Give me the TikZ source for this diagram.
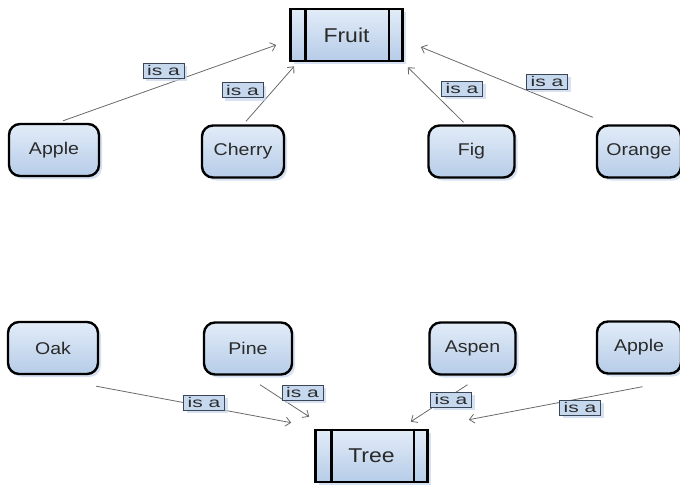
\documentclass[tikz,border=0pt]{standalone}
\usepackage{fontspec}
\setmainfont{Liberation Sans}
\usetikzlibrary{arrows.meta,shadows,calc}
\definecolor{txt}{HTML}{2A2A2A}
\definecolor{boxtop}{HTML}{E2ECF8}
\definecolor{boxbot}{HTML}{B6CCE8}
\definecolor{shadowc}{HTML}{C5D6EC}
\definecolor{lblfill}{HTML}{C6D8EE}
\definecolor{lbldraw}{HTML}{3A4656}
\definecolor{linec}{HTML}{6A6A6A}
\newcommand{\hs}[2][1.15]{\scalebox{#1}[1]{#2}}
\begin{document}
\begin{tikzpicture}[x=1pt,y=-1pt,
  item/.style={draw=black, line width=2.4pt, rounded corners=11pt,
    top color=boxtop, bottom color=boxbot, inner sep=0pt,
    minimum width=86pt, minimum height=52pt, text=txt,
    font=\fontsize{17}{20}\selectfont,
    drop shadow={fill=shadowc, opacity=0.7, shadow xshift=3pt, shadow yshift=-3pt}},
  kind/.style={draw=black, line width=2.6pt,
    top color=boxtop, bottom color=boxbot, inner sep=0pt,
    minimum width=112pt, minimum height=52pt, text=txt,
    font=\fontsize{20}{24}\selectfont,
    drop shadow={fill=shadowc, opacity=0.7, shadow xshift=3pt, shadow yshift=-3pt}},
  isalbl/.style={draw=lbldraw, line width=0.8pt, fill=lblfill, inner sep=0pt,
    minimum width=41pt, minimum height=15pt, text=txt,
    font=\fontsize{14}{15}\selectfont,
    drop shadow={fill=shadowc, opacity=0.7, shadow xshift=3pt, shadow yshift=-3pt}},
  isa/.style={draw=linec, line width=0.8pt, -{Straight Barb[length=5pt,width=9pt]}},
  bar/.style={draw=black, line width=2.6pt}
]
\useasboundingbox (0,0) rectangle (680,488);

% top group
\node[kind] (fruit) at (346.5,35) {\hs{Fruit}};
\draw[bar] ([xshift=16pt]fruit.north west) -- ([xshift=16pt]fruit.south west);
\draw[bar] ([xshift=-15pt]fruit.north east) -- ([xshift=-15pt]fruit.south east);

\node[item, minimum width=90pt] (apple1) at (54,150) {\hs{Apple}};
\node[item, minimum width=82pt] (cherry) at (243,151.5) {\hs{Cherry}};
\node[item, minimum width=86pt] (fig) at (471.5,151.5) {\hs{Fig}};
\node[item, minimum width=84pt] (orange) at (639,151.5) {\hs{Orange}};

\draw[isa] ([shift={(9,-2)}]apple1.north) -- ([shift={(-13,10)}]fruit.west);
\draw[isa] ([shift={(3,-3)}]cherry.north) -- ([shift={(5,4)}]fruit.south west);
\draw[isa] ([shift={(-8,-2)}]fig.north) -- ([shift={(4,5)}]fruit.south east);
\draw[isa] ([shift={(-3,-7)}]orange.north west) -- ([shift={(17,12)}]fruit.east);

\node[isalbl] (l1) at (163.5,70.5) {\hs[1.5]{is a}};
\node[isalbl] (l2) at (242.5,90) {\hs[1.5]{is a}};
\node[isalbl] (l3) at (462,88.5) {\hs[1.5]{is a}};
\node[isalbl] (l4) at (547,81.5) {\hs[1.5]{is a}};

% bottom group
\node[kind] (tree) at (371.5,456) {\hs{Tree}};
\draw[bar] ([xshift=17pt]tree.north west) -- ([xshift=17pt]tree.south west);
\draw[bar] ([xshift=-15pt]tree.north east) -- ([xshift=-15pt]tree.south east);

\node[item, minimum width=90pt] (oak) at (53,348) {\hs{Oak}};
\node[item, minimum width=88pt] (pine) at (248,348.5) {\hs{Pine}};
\node[item, minimum width=86pt] (aspen) at (472.5,348.5) {\hs{Aspen}};
\node[item, minimum width=84pt] (apple2) at (639,347.5) {\hs{Apple}};

\draw[isa] ([shift={(-3,11)}]oak.south east) -- ([shift={(-23,-6)}]tree.north west);
\draw[isa] ([shift={(12,9)}]pine.south) -- ([shift={(-5,-12)}]tree.north west);
\draw[isa] ([shift={(-5,9)}]aspen.south) -- ([shift={(-18,-7)}]tree.north east);
\draw[isa] ([shift={(3.5,12)}]apple2.south) -- ([shift={(40,-9)}]tree.north east);

\node[isalbl] (l5) at (204,402.5) {\hs[1.5]{is a}};
\node[isalbl] (l6) at (302.5,392.5) {\hs[1.5]{is a}};
\node[isalbl] (l7) at (451,399.5) {\hs[1.5]{is a}};
\node[isalbl] (l8) at (580,407.5) {\hs[1.5]{is a}};
\end{tikzpicture}
\end{document}
